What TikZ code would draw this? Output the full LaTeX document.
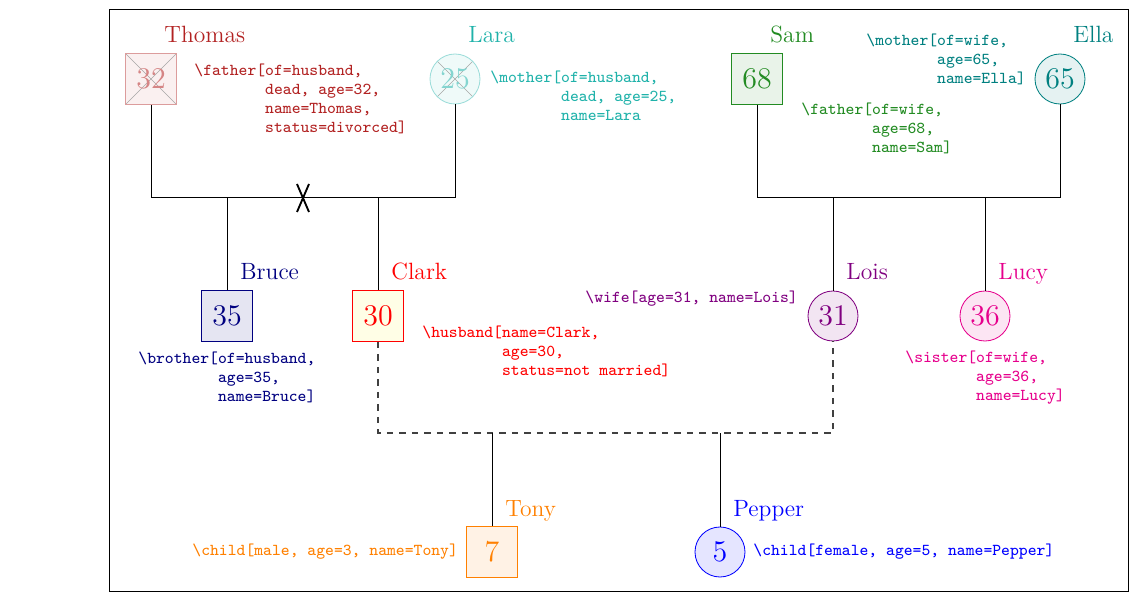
\documentclass[tikz,border=0pt]{standalone}
\usetikzlibrary{calc}
\definecolor{cThomas}{RGB}{178,34,34}
\definecolor{cLara}{RGB}{32,178,170}
\definecolor{cSam}{RGB}{34,139,34}
\definecolor{cElla}{RGB}{0,128,128}
\definecolor{cBruce}{RGB}{0,0,128}
\definecolor{cClark}{RGB}{255,0,0}
\definecolor{cLois}{RGB}{128,0,128}
\definecolor{cLucy}{RGB}{230,0,140}
\definecolor{cTony}{RGB}{255,128,0}
\definecolor{cPepper}{RGB}{0,0,255}
\newcommand{\bs}{\textbackslash}
\tikzset{
  person/.style={inner sep=0pt, font=\Large, line width=0.4pt},
  male/.style={person, rectangle, minimum size=24.5pt},
  female/.style={person, circle, minimum size=24pt},
  alive/.style={draw=#1, fill=#1!10, text=#1},
  deceased/.style={draw=#1!45, fill=#1!7, text=#1!55,
    path picture={\draw[black!35, line width=0.3pt]
      (path picture bounding box.north west) -- (path picture bounding box.south east)
      (path picture bounding box.south west) -- (path picture bounding box.north east);}},
  pname/.style={font=\fontsize{11.3}{13}\selectfont, anchor=base west, inner sep=0pt, text=#1},
  code/.style={font=\ttfamily\fontsize{8}{9.2}\selectfont, align=left, inner sep=0pt, anchor=north west, text=#1},
  link/.style={draw=black, line width=0.4pt},
  dlink/.style={draw=black!75, dashed, line width=0.55pt},
  divmark/.style={draw=black, line width=0.9pt},
  frame/.style={draw=black, line width=0.4pt},
}
\begin{document}
\begin{tikzpicture}[x=0.48pt,y=-0.48pt]
\useasboundingbox (0,0) rectangle (1137,600);
\draw[frame] (109,9) rectangle (1128,591);

% persons
\node[male, deceased=cThomas] (thomas) at (151,79) {32};
\node[female, deceased=cLara] (lara) at (455,79) {25};
\node[male, alive=cSam] (sam) at (757,79) {68};
\node[female, alive=cElla] (ella) at (1060,79) {65};
\node[male, alive=cBruce] (bruce) at (227,316) {35};
\node[male, draw=cClark, fill=yellow!10, text=cClark] (clark) at (378,316) {30};
\node[female, alive=cLois] (lois) at (833,316) {31};
\node[female, alive=cLucy] (lucy) at (985,316) {36};
\node[male, alive=cTony] (tony) at (492,552) {7};
\node[female, alive=cPepper] (pepper) at (720,552) {5};

% names
\node[pname=cThomas] (thomasname) at ($(thomas.center)+(13,-36)$) {Thomas};
\node[pname=cLara] (laraname) at ($(lara.center)+(13,-36)$) {Lara};
\node[pname=cSam] (samname) at ($(sam.center)+(13,-36)$) {Sam};
\node[pname=cElla] (ellaname) at ($(ella.center)+(13,-36)$) {Ella};
\node[pname=cBruce] (brucename) at ($(bruce.center)+(13,-36)$) {Bruce};
\node[pname=cClark] (clarkname) at ($(clark.center)+(13,-36)$) {Clark};
\node[pname=cLois] (loisname) at ($(lois.center)+(13,-36)$) {Lois};
\node[pname=cLucy] (lucyname) at ($(lucy.center)+(13,-36)$) {Lucy};
\node[pname=cTony] (tonyname) at ($(tony.center)+(13,-36)$) {Tony};
\node[pname=cPepper] (peppername) at ($(pepper.center)+(13,-36)$) {Pepper};

% code annotations
\node[code=cThomas] (thomascode) at (194,63.5) {\bs father[of=husband,\\\phantom{\bs father[}dead, age=32,\\\phantom{\bs father[}name=Thomas,\\\phantom{\bs father[}status=divorced]};
\node[code=cLara] (laracode) at (490,70.5) {\bs mother[of=husband,\\\phantom{\bs mother[}dead, age=25,\\\phantom{\bs mother[}name=Lara};
\node[code=cSam] (samcode) at (801,102.5) {\bs father[of=wife,\\\phantom{\bs father[}age=68,\\\phantom{\bs father[}name=Sam]};
\node[code=cElla] (ellacode) at (866,33.5) {\bs mother[of=wife,\\\phantom{\bs mother[}age=65,\\\phantom{\bs mother[}name=Ella]};
\node[code=cBruce] (brucecode) at (138,351.5) {\bs brother[of=husband,\\\phantom{\bs brother[}age=35,\\\phantom{\bs brother[}name=Bruce]};
\node[code=cClark] (clarkcode) at (422,325.5) {\bs husband[name=Clark,\\\phantom{\bs husband[}age=30,\\\phantom{\bs husband[}status=not married]};
\node[code=cLois] (loiscode) at (585,290.5) {\bs wife[age=31, name=Lois]};
\node[code=cLucy] (lucycode) at (905,350.5) {\bs sister[of=wife,\\\phantom{\bs sister[}age=36,\\\phantom{\bs sister[}name=Lucy]};
\node[code=cTony] (tonycode) at (192,543.5) {\bs child[male, age=3, name=Tony]};
\node[code=cPepper] (peppercode) at (753,543.5) {\bs child[female, age=5, name=Pepper]};

% connectors
\coordinate (jtop) at (0,197);
\coordinate (jbot) at (0,433);
\draw[link] (thomas.south) -- (thomas.south |- jtop) -- (lara.south |- jtop) -- (lara.south);
\draw[link] (bruce.north) -- (bruce.north |- jtop);
\draw[link] (clark.north) -- (clark.north |- jtop);
\draw[link] (sam.south) -- (sam.south |- jtop) -- (ella.south |- jtop) -- (ella.south);
\draw[link] (lois.north) -- (lois.north |- jtop);
\draw[link] (lucy.north) -- (lucy.north |- jtop);
\draw[dlink] (clark.south) -- (clark.south |- jbot) -- (lois.south |- jbot) -- (lois.south);
\draw[link] (tony.north) -- (tony.north |- jbot);
\draw[link] (pepper.north) -- (pepper.north |- jbot);

% divorce mark
\coordinate (div) at (303,198);
\draw[divmark] ($(div)+(-6,-14)$) -- ($(div)+(6,14)$) ($(div)+(6,-14)$) -- ($(div)+(-6,14)$);
\end{tikzpicture}
\end{document}
